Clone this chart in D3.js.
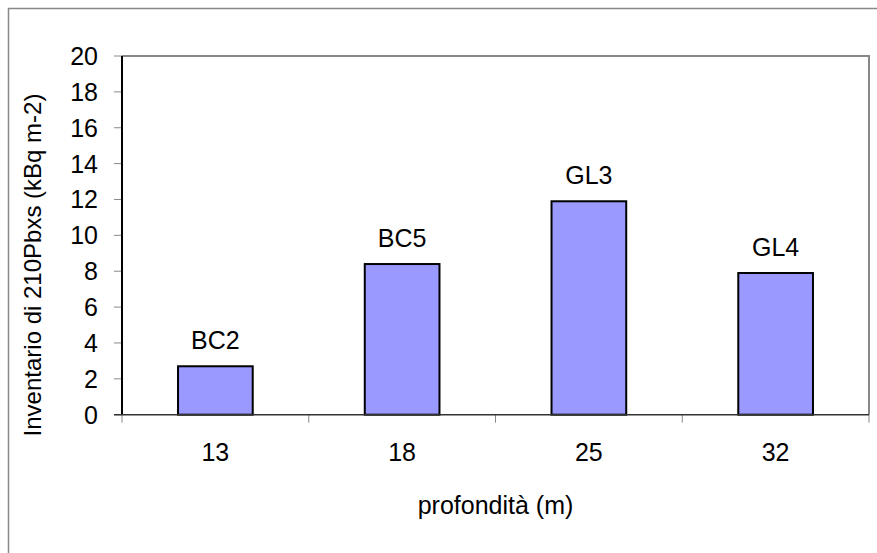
<!DOCTYPE html>
<html>
<head>
<meta charset="utf-8">
<script src="https://cdn.jsdelivr.net/npm/d3@7"></script>
<style>
  body { margin: 0; background: #fff; }
  svg { display: block; font-family: 'Liberation Sans', Arial, sans-serif; }
</style>
</head>
<body>
<svg id="chart" width="877" height="553"></svg>
<script>
const depths = ['13', '18', '25', '32'];
const sites = ['BC2', 'BC5', 'GL3', 'GL4'];
const inventory = [2.7, 8.4, 11.9, 7.9];
const yTicks = [0, 2, 4, 6, 8, 10, 12, 14, 16, 18, 20];

const w = 877;
const h = 553;
const margin = { top: 56, right: 8, bottom: 138, left: 122 };
const fontSize = '25px';

const svg = d3.select('#chart');

// outer frame (only top and left visible)
svg.append('path')
  .attr('d', `M8.5,${h} V8.5 H${w}`)
  .attr('fill', 'none')
  .attr('stroke', '#888')
  .attr('stroke-width', 1.5);

const xScale = d3.scaleBand()
  .domain(depths)
  .range([margin.left, w - margin.right]);

const yScale = d3.scaleLinear()
  .domain([0, 20])
  .range([h - margin.bottom - 0.3, margin.top]);

const x0 = margin.left, x1 = w - margin.right;
const y0 = yScale(0), y1 = yScale(20);

// plot area frame: top and right gray
svg.append('path')
  .attr('d', `M${x0},${y1} H${x1} V${y0}`)
  .attr('fill', 'none')
  .attr('stroke', '#888')
  .attr('stroke-width', 2);

// y ticks
svg.append('g').selectAll('line')
  .data(yTicks)
  .enter()
  .append('line')
  .attr('x1', x0 - 8)
  .attr('x2', x0)
  .attr('y1', d => yScale(d))
  .attr('y2', d => yScale(d))
  .attr('stroke', '#888')
  .attr('stroke-width', 1);

svg.append('g').selectAll('text')
  .data(yTicks)
  .enter()
  .append('text')
  .attr('x', 98)
  .attr('y', d => yScale(d) + 9)
  .attr('text-anchor', 'end')
  .style('font-size', fontSize)
  .text(d => d);

// x ticks at band boundaries
const bounds = depths.map(d => xScale(d)).concat([x1]);
svg.append('g').selectAll('line')
  .data(bounds)
  .enter()
  .append('line')
  .attr('x1', d => d)
  .attr('x2', d => d)
  .attr('y1', y0)
  .attr('y2', y0 + 8)
  .attr('stroke', '#888')
  .attr('stroke-width', 1);

svg.append('g').selectAll('text')
  .data(depths)
  .enter()
  .append('text')
  .attr('x', d => xScale(d) + xScale.bandwidth() / 2)
  .attr('y', y0 + 46)
  .attr('text-anchor', 'middle')
  .style('font-size', fontSize)
  .text(d => d);

// bars
const barW = xScale.bandwidth() * 0.4;
svg.append('g').selectAll('rect')
  .data(inventory)
  .enter()
  .append('rect')
  .attr('x', (d, i) => xScale(depths[i]) + xScale.bandwidth() / 2 - barW / 2)
  .attr('y', d => yScale(d))
  .attr('width', barW)
  .attr('height', d => y0 - yScale(d))
  .attr('fill', '#9999ff')
  .attr('stroke', '#000')
  .attr('stroke-width', 2);

// bar labels
svg.append('g').selectAll('text')
  .data(inventory)
  .enter()
  .append('text')
  .attr('x', (d, i) => xScale(depths[i]) + xScale.bandwidth() / 2)
  .attr('y', d => yScale(d) - 17)
  .attr('text-anchor', 'middle')
  .style('font-size', fontSize)
  .text((d, i) => sites[i]);

// axes lines
svg.append('line')
  .attr('x1', x0).attr('x2', x0)
  .attr('y1', y1).attr('y2', y0)
  .attr('stroke', '#000')
  .attr('stroke-width', 2);
svg.append('line')
  .attr('x1', x0 - 8).attr('x2', x1)
  .attr('y1', y0).attr('y2', y0)
  .attr('stroke', '#333')
  .attr('stroke-width', 1.5);

// axis titles
svg.append('text')
  .attr('x', (x0 + x1) / 2)
  .attr('y', 514)
  .attr('text-anchor', 'middle')
  .style('font-size', fontSize)
  .text('profondità (m)');

svg.append('text')
  .attr('transform', 'translate(41, 265) rotate(-90)')
  .attr('text-anchor', 'middle')
  .style('font-size', '24px')
  .text('Inventario di 210Pbxs (kBq m-2)');
</script>
</body>
</html>
